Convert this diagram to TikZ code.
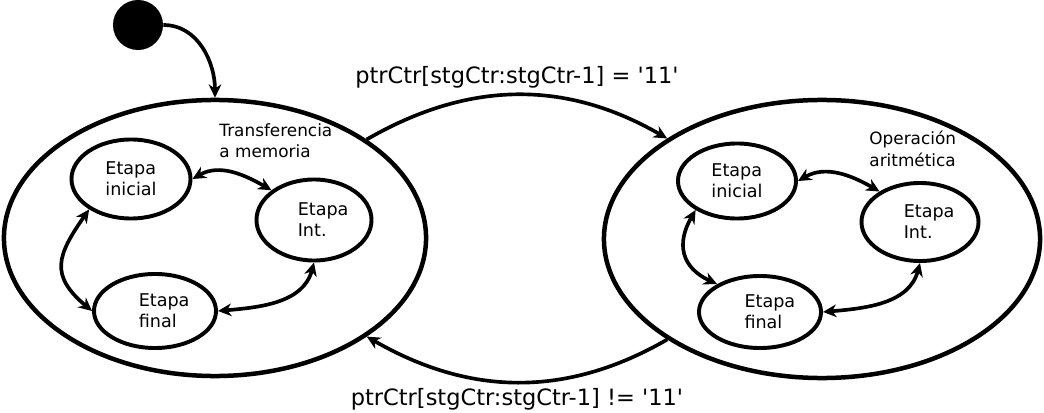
\documentclass[tikz,border=0pt]{standalone}
\usepackage{fontspec}
\setmainfont{DejaVu Sans}
\usetikzlibrary{shapes.geometric,arrows.meta,positioning}

\begin{document}
\begin{tikzpicture}[x=0.025cm, y=-0.025cm, >={Stealth[length=9.5pt,width=9pt,inset=3pt]}, semithick]
\tikzstyle{fase}=[draw, ellipse, line width=3.2pt, inner sep=0pt]
\tikzstyle{etapa}=[draw, ellipse, line width=2.8pt, inner sep=0pt, align=left, font=\fontsize{12.5}{15}\selectfont]
\tikzstyle{titulo}=[anchor=north west, inner sep=0pt, align=left, font=\fontsize{12}{15}\selectfont]
\tikzstyle{paso}=[line width=2.6pt]
\useasboundingbox (0,0) rectangle (1044,413);

\node[fill, circle, minimum size=1.25cm, inner sep=0pt] (init) at (138,25) {};
\node[fase, minimum width=10.55cm, minimum height=6.9cm]  (T) at (215,238) {};
\node[fase, minimum width=10.9cm, minimum height=6.95cm]  (O) at (822,239) {};

% Transferencia a memoria
\node[titulo] (tT) at (219,123) {Transferencia\\a memoria};
\node[etapa, minimum width=2.975cm, minimum height=1.975cm] (t1) at (131,179) {Etapa\\inicial};
\node[etapa, minimum width=2.875cm, minimum height=2.025cm] (t2) at (314,220) {\hspace*{13pt}Etapa\\\hspace*{13pt}Int.};
\node[etapa, minimum width=3.05cm, minimum height=1.85cm]   (t3) at (155,311) {\hspace*{13pt}Etapa\\\hspace*{13pt}final};

% Operacion aritmetica
\node[titulo] (tO) at (869,131) {Operación\\aritmética};
\node[etapa, minimum width=2.95cm, minimum height=1.875cm]  (o1) at (737,181) {Etapa\\inicial};
\node[etapa, minimum width=2.925cm, minimum height=1.95cm]  (o2) at (920,222) {\hspace*{13pt}Etapa\\\hspace*{13pt}Int.};
\node[etapa, minimum width=3.05cm, minimum height=1.8cm]    (o3) at (760,312) {\hspace*{14pt}Etapa\\\hspace*{14pt}final};

\path[paso, ->]
(init.east) edge[out=0, in=90]    (T.north)
(T.33)      edge[out=30, in=150]  node[above, font=\fontsize{16}{18}\selectfont]{ptrCtr[stgCtr:stgCtr-1] = \textquotesingle 11\textquotesingle}  (O.147)
(O.213)     edge[out=210, in=-30] node[below, font=\fontsize{16}{18}\selectfont]{ptrCtr[stgCtr:stgCtr-1] != \textquotesingle 11\textquotesingle} (T.327);

\path[paso, <->]
(t1.east)   edge[out=30, in=150]                (t2.145)
(t1.216)    edge[out=235, in=140, looseness=1.4] (t3.west)
(t2.south)  edge[out=255, in=5]                 (t3.east)
(o1.east)   edge[out=30, in=150]                (o2.143)
(o1.215)    edge[out=240, in=155, looseness=1.3] (o3.147)
(o2.south)  edge[out=255, in=5]                 (o3.east);
\end{tikzpicture}
\end{document}
